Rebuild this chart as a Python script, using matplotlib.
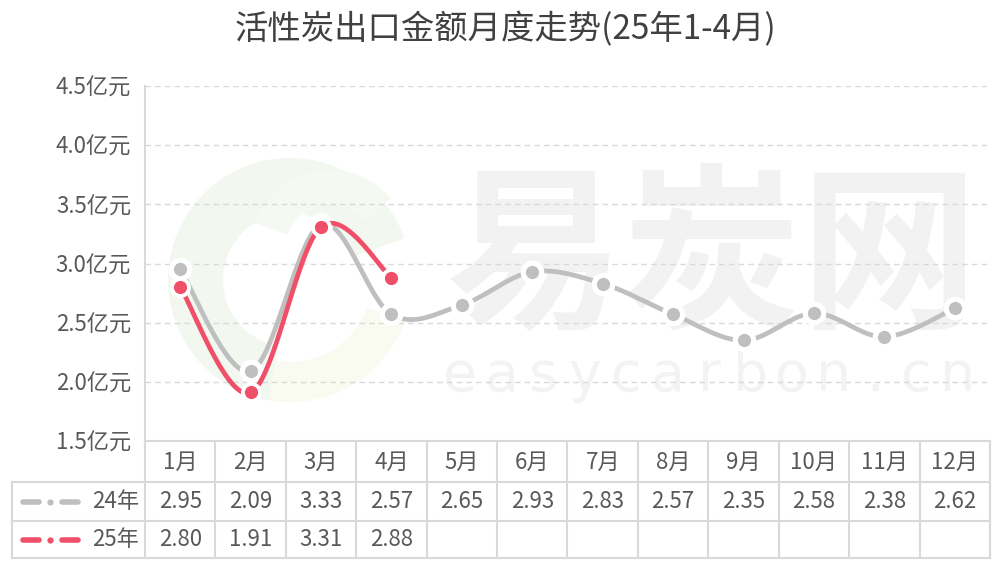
import numpy as np
import matplotlib
matplotlib.use('Agg')
import matplotlib.pyplot as plt
from matplotlib.patches import Wedge

plt.rcParams['font.family'] = ['Noto Sans CJK SC', 'DejaVu Sans']

# ---------------- data ----------------
title = '活性炭出口金额月度走势(25年1-4月)'
months = ['1月', '2月', '3月', '4月', '5月', '6月', '7月', '8月', '9月', '10月', '11月', '12月']
series_names = ['24年', '25年']
y24 = [2.95, 2.09, 3.33, 2.57, 2.65, 2.93, 2.83, 2.57, 2.35, 2.58, 2.38, 2.62]
y25 = [2.80, 1.91, 3.31, 2.88]
yticks = [1.5, 2.0, 2.5, 3.0, 3.5, 4.0, 4.5]
ytick_labels = [f'{v:.1f}亿元' for v in yticks]

GRAY = '#BFBFBF'
RED = '#EF4F68'
TXT = '#595959'
GRID = '#D9D9D9'

W, H = 1000, 569
fig = plt.figure(figsize=(W / 100, H / 100), dpi=100)


def fx(px):
    return px / W


def fy(py):
    return 1 - py / H


# ---------------- watermark ----------------
wm = fig.add_axes([0, 0, 1, 1], zorder=0)
wm.set_xlim(0, W)
wm.set_ylim(H, 0)
wm.axis('off')
wm.add_patch(Wedge((290, 280), 122, 100, 340, width=55, facecolor='#F2F8F0', edgecolor='none'))
wm.add_patch(Wedge((290, 280), 122, 20, 100, width=40, facecolor='#F9FBF0', edgecolor='none'))
wm.add_patch(Wedge((330, 250), 80, 200, 320, width=35, facecolor='#F4F9F2', edgecolor='none'))
wm.text(712, 262, '易炭网', fontsize=128, color='#F2F2F2', ha='center', va='center', fontweight='bold')
for i, ch in enumerate('easycarbon.cn'):
    wm.text(460 + i * 41.5, 376, ch, fontsize=40, color='#F3F3F3', ha='center', va='center',
            family=['DejaVu Sans'])

# ---------------- title ----------------
fig.text(0.506, fy(30), title, ha='center', va='center', fontsize=24, color='#404040')

# ---------------- main axes ----------------
ax = fig.add_axes([fx(145), fy(441), fx(990) - fx(145), fy(86) - fy(441)], zorder=2)
ax.set_facecolor('none')
ax.set_xlim(0.5, 12.5)
ax.set_ylim(1.5, 4.5)
ax.set_yticks(yticks)
ax.set_yticklabels(ytick_labels, fontsize=16, color=TXT)
ax.set_xticks([])
ax.tick_params(axis='y', length=0, pad=10)
ax.yaxis.grid(True, linestyle=(0, (4, 3)), color=GRID, linewidth=1)
for s in ['top', 'right', 'bottom']:
    ax.spines[s].set_visible(False)
ax.spines['left'].set_color(GRID)
ax.spines['left'].set_linewidth(1.5)


def smooth(xs, ys, n=40):
    P = np.column_stack([np.asarray(xs, float), np.asarray(ys, float)])
    out = []
    for i in range(len(P) - 1):
        p0 = P[i - 1] if i > 0 else P[i]
        p1, p2 = P[i], P[i + 1]
        p3 = P[i + 2] if i + 2 < len(P) else P[i + 1]
        c1 = p1 + (p2 - p0) / 6
        c2 = p2 - (p3 - p1) / 6
        t = np.linspace(0, 1, n)[:, None]
        seg = (1 - t) ** 3 * p1 + 3 * (1 - t) ** 2 * t * c1 + 3 * (1 - t) * t ** 2 * c2 + t ** 3 * p2
        out.append(seg if i == 0 else seg[1:])
    return np.vstack(out)


x24 = np.arange(1, len(y24) + 1)
x25 = np.arange(1, len(y25) + 1)

s = smooth(x24, y24)
ax.plot(s[:, 0], s[:, 1], color=GRAY, lw=3.4, solid_capstyle='butt', zorder=3)
ax.plot(x24, y24, 'o', color='white', ms=17, mew=0, zorder=4)
ax.plot(x24, y24, 'o', color=GRAY, ms=9.5, mew=0, zorder=5)

s = smooth(x25, y25)
ax.plot(s[:, 0], s[:, 1], color=RED, lw=3.4, solid_capstyle='butt', zorder=6)
ax.plot(x25, y25, 'o', color='white', ms=15, mew=0, zorder=7)
ax.plot(x25, y25, 'o', color=RED, ms=9.5, mew=0, zorder=8)

# ---------------- data table ----------------
tax = fig.add_axes([fx(145), fy(558), fx(990) - fx(145), fy(441) - fy(558)], zorder=2)
tax.set_xlim(0.5, 12.5)
tax.set_ylim(558, 441)
tax.axis('off')
unit = 845 / 12.0


def px2x(px):
    return 0.5 + (px - 145) / unit


xl = px2x(12)
lkw = dict(color=GRID, lw=1.5, clip_on=False, solid_capstyle='projecting')
for b in np.arange(0.5, 13.0, 1.0):
    tax.plot([b, b], [441, 558], **lkw)
tax.plot([xl, xl], [482, 558], **lkw)
tax.plot([0.5, 12.5], [441, 441], **lkw)
for yy in (482, 521, 558):
    tax.plot([xl, 12.5], [yy, yy], **lkw)

for i, m in enumerate(months):
    tax.text(i + 1, 462, m, ha='center', va='center', fontsize=16, color=TXT)
for row_y, vals in ((502, y24), (540, y25)):
    for i, v in enumerate(vals):
        tax.text(i + 1, row_y, f'{v:.2f}', ha='center', va='center', fontsize=16, color=TXT)

# legend keys
for row_y, col, name in ((502, GRAY, series_names[0]), (540, RED, series_names[1])):
    tax.plot([px2x(23), px2x(39)], [row_y, row_y], color=col, lw=4, solid_capstyle='round', clip_on=False)
    tax.plot([px2x(62), px2x(78)], [row_y, row_y], color=col, lw=4, solid_capstyle='round', clip_on=False)
    tax.plot([px2x(50)], [row_y], 'o', color=col, ms=4.5, mew=0, clip_on=False)
    tax.text(px2x(139), row_y, name, ha='right', va='center', fontsize=16, color=TXT)

fig.savefig('out.png', dpi=100)
